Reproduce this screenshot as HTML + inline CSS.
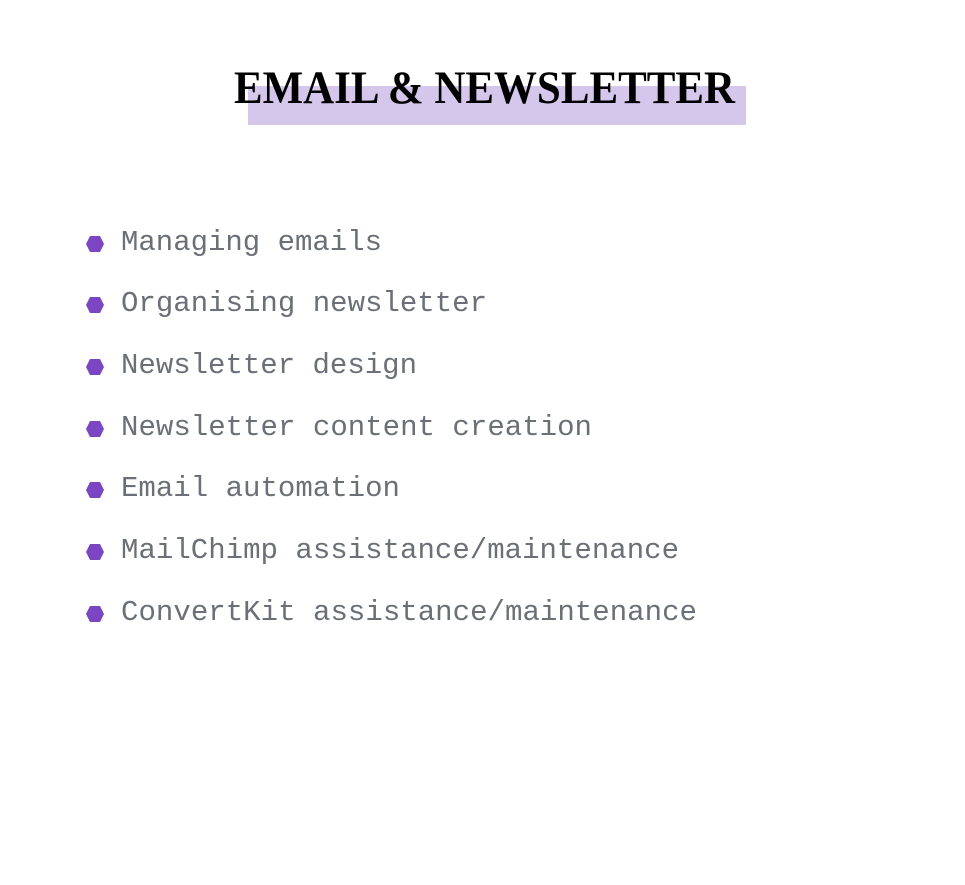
<!DOCTYPE html>
<html><head><meta charset="utf-8"><style>
html,body{margin:0;padding:0;background:#fff;}
svg{display:block}
text.i{font-family:"Liberation Mono",monospace;font-size:29px;fill:#6b7078;}
</style></head><body>
<svg width="965" height="885" viewBox="0 0 965 885" xmlns="http://www.w3.org/2000/svg">
<rect width="965" height="885" fill="#fff"/>
<rect x="248" y="86" width="498" height="39" fill="#d5c6ec"/>
<text x="234" y="103" textLength="501" lengthAdjust="spacingAndGlyphs" font-family="Liberation Serif, serif" font-weight="bold" font-size="47" fill="#000">EMAIL &amp; NEWSLETTER</text>
<g fill="#7b45c4">
<polygon points="86,244 90,236 100,236 104,244 100,252 90,252"/>
<polygon points="86,305 90,297 100,297 104,305 100,313 90,313"/>
<polygon points="86,367 90,359 100,359 104,367 100,375 90,375"/>
<polygon points="86,429 90,421 100,421 104,429 100,437 90,437"/>
<polygon points="86,490 90,482 100,482 104,490 100,498 90,498"/>
<polygon points="86,552 90,544 100,544 104,552 100,560 90,560"/>
<polygon points="86,614 90,606 100,606 104,614 100,622 90,622"/>
</g>
<text class="i" x="121" y="250" textLength="261" lengthAdjust="spacingAndGlyphs">Managing emails</text>
<text class="i" x="121" y="311" textLength="366" lengthAdjust="spacingAndGlyphs">Organising newsletter</text>
<text class="i" x="121" y="373" textLength="296" lengthAdjust="spacingAndGlyphs">Newsletter design</text>
<text class="i" x="121" y="435" textLength="471" lengthAdjust="spacingAndGlyphs">Newsletter content creation</text>
<text class="i" x="121" y="496" textLength="279" lengthAdjust="spacingAndGlyphs">Email automation</text>
<text class="i" x="121" y="558" textLength="558" lengthAdjust="spacingAndGlyphs">MailChimp assistance/maintenance</text>
<text class="i" x="121" y="620" textLength="576" lengthAdjust="spacingAndGlyphs">ConvertKit assistance/maintenance</text>
</svg>
</body></html>
